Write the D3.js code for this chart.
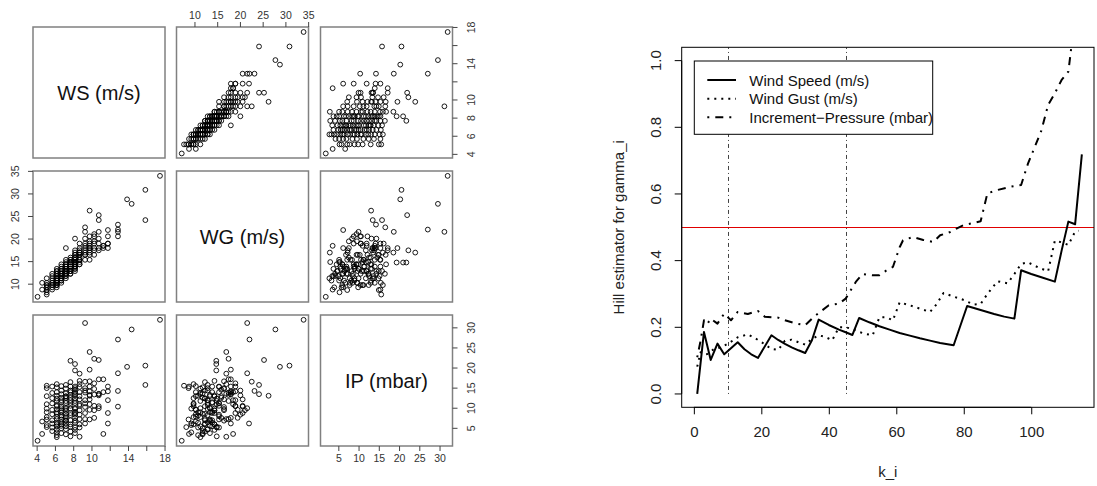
<!DOCTYPE html>
<html><head><meta charset="utf-8">
<script src="https://cdn.jsdelivr.net/npm/d3@7"></script>
<style>
body{margin:0;background:#fff;}
svg{display:block;font-family:"Liberation Sans",Arial,Helvetica,sans-serif;}
</style></head>
<body>
<script>
// ---------- data: scatterplot matrix (grouped by wind-speed level) ----------
const varNames = ["WS (m/s)", "WG (m/s)", "IP (mbar)"];
const wsLevels = [4.1,4.6,5.1,5.7,6.2,6.7,7.2,7.7,8.2,8.7,9.3,9.8,10.3,10.8,11.3,11.8,12.9,13.9,14.4,15.9,17.5];
const wgByLevel = [
 [7.2],
 [8.8,10.3],
 [7.7,8.2,8.7,9.3,9.8,8.7,10.3,9.3,11.3,9.8],
 [8.8,9.3,9.8,10.3,10.8,11.3,10.3,12.3,9.8,11.8],
 [9.8,10.3,10.8,11.3,9.8,10.3,11.8,12.3,10.8,11.3,12.9,9.3,10.8,11.3,12.3,13.4,10.3,11.8,12.9,9.8],
 [10.3,11.3,11.8,12.3,10.8,11.3,12.9,13.4,11.8,12.3,13.9,10.8,11.8,12.9,11.3,13.4,12.3,14.4],
 [11.3,11.8,12.3,12.9,13.4,12.3,13.9,12.9,11.8,14.4,13.4,12.9,14.9,12.3,13.9,15.4,18.0,12.9,14.4,13.4],
 [12.3,12.9,13.4,13.9,14.4,12.9,13.4,14.9,12.3,15.4,13.9,14.8,15.9,14.4,12.9,13.9,15.4,14.9],
 [14.8,14.8,12.9,13.9,14.4,14.9,15.4,13.4,14.4,15.9,13.9,14.9,13.4,16.5,17.0,15.4,14.4,16.5,17.5,20.1,15.9,13.9],
 [17.0,14.4,15.4,15.9,14.9,16.5,15.4,17.5,14.4,17.0,18.0,16.5,19.0,15.4,17.0],
 [21.6,22.6,16.5,17.5,18.5,16.5,19.0,17.0,20.1,18.0,15.4],
 [17.0,18.0,26.3,16.5,19.0,18.0,17.5,20.6,19.5,15.4,18.5],
 [17.5,19.0,18.0,20.6,21.1,19.5,16.5],
 [25.3,24.2,18.0,19.0,21.6,20.1,17.5],
 [18.0,18.5,18.5],
 [18.0,19.0,20.6,22.0,19.0],
 [20.6,23.2,21.6,22.1],
 [28.8],
 [27.8],
 [24.2,30.9],
 [34.0]
];
const ipByLevel = [
 [1.9],
 [3.6,6.7],
 [15.6,5.3,15.0,9.9,7.8,7.2,13.0,5.8,9.0,11.0],
 [15.4,6.2,11.2,8.5,5.2,13.8,9.6,7.0,12.5,4.3],
 [16.0,14.0,13.1,11.8,10.5,9.7,8.6,7.3,6.4,5.5,4.7,4.0,3.3,2.8,12.4,9.0,7.9,15.2,10.8,6.0],
 [15.5,13.5,12.6,10.5,9.0,7.8,6.5,5.6,5.0,14.4,11.5,8.2,3.8,12.0,10.0,7.2,6.0,9.5],
 [14.9,13.7,12.5,11.3,10.1,8.6,7.0,4.8,3.5,9.4,13.0,15.8,11.8,6.2,5.5,8.0,7.6,9.8,12.9,6.8],
 [16.5,14.4,13.3,11.3,9.9,8.3,7.0,5.4,4.2,10.6,15.4,21.8,12.6,6.0,12.0,8.8,14.0,3.0],
 [21.0,19.4,15.0,14.0,13.2,12.4,11.3,10.0,8.8,7.6,6.4,5.2,3.8,9.8,13.6,15.4,4.6,6.9,11.8,8.4,14.6,9.1],
 [18.6,16.8,15.3,13.0,11.0,9.5,8.4,7.3,6.0,2.9,14.0,12.2,10.6,5.2,16.0],
 [31.2,16.6,15.0,13.9,12.0,10.3,8.8,7.3,14.4,6.2,11.2],
 [24.0,19.6,13.1,16.7,15.4,14.2,13.3,12.2,9.6,7.2,11.0],
 [22.3,16.2,13.4,10.6,9.5,7.6,14.8],
 [22.0,13.5,13.6,10.5,10.0,13.2,17.2],
 [17.2,3.6,14.0],
 [15.4,12.0,8.8,6.2,14.2],
 [10.4,14.3,18.7,27.1],
 [20.3],
 [29.6],
 [15.8,20.6],
 [32.0]
];
const wsTicks = [4,6,8,10,12,14,16,18];
const wsTickLabels = [4,6,8,10,14,18];
const wgTicks = [10,15,20,25,30,35];
const ipTicks = [5,10,15,20,25,30];

// ---------- data: Hill estimator plot ----------
const hillKws = [1,3,5,7,9,13,15,17,19,23,25,27,29,31,33,35,37,40,43,45,47,49,52,55,58,61,64,67,70,73,77,81,85,89,92,95,97,100,103,107,109,111,113,115];
const hillWS  = [0.0,0.186,0.102,0.151,0.119,0.155,0.134,0.119,0.108,0.176,0.162,0.150,0.140,0.131,0.123,0.161,0.223,0.207,0.193,0.185,0.177,0.228,0.215,0.203,0.193,0.183,0.175,0.167,0.160,0.153,0.146,0.264,0.252,0.240,0.232,0.226,0.371,0.360,0.350,0.337,0.43,0.517,0.509,0.719];
const hillKwg = [1,2,3,4,6,8,10,13,16,18,20,23,25,27,29,31,33,35,37,39,41,43,45,47,49,51,53,55,57,59,61,64,67,70,72,74,77,80,83,85,87,90,93,95,97,99,102,105,107,109,111,113,114];
const hillWG  = [0.082,0.125,0.118,0.12,0.135,0.14,0.15,0.17,0.179,0.168,0.156,0.135,0.132,0.16,0.163,0.155,0.148,0.165,0.176,0.171,0.161,0.2,0.2,0.195,0.186,0.18,0.176,0.23,0.23,0.221,0.275,0.266,0.256,0.246,0.27,0.303,0.292,0.282,0.268,0.27,0.3,0.338,0.332,0.36,0.39,0.395,0.38,0.368,0.46,0.455,0.447,0.487,0.49];
const hillKip = [1,2,3,4,5,7,9,11,13,16,19,21,25,27,30,33,35,37,40,43,45,48,50,53,55,57,59,61,62,65,68,71,73,76,78,80,83,85,86,87,90,94,97,99,101,103,105,107,109,111,112,114];
const hillIP  = [0.11,0.16,0.221,0.21,0.226,0.211,0.241,0.221,0.246,0.24,0.249,0.232,0.229,0.221,0.212,0.206,0.226,0.243,0.266,0.271,0.286,0.336,0.36,0.356,0.356,0.37,0.381,0.44,0.461,0.471,0.462,0.456,0.476,0.486,0.497,0.507,0.513,0.518,0.56,0.602,0.612,0.622,0.627,0.69,0.74,0.79,0.867,0.902,0.942,0.967,1.05,1.25];
const hillXTicks = [0,20,40,60,80,100];
const hillYTicks = [0,0.2,0.4,0.6,0.8,1.0];
const vLines = [10,45];
const hLine = 0.5;
const legendLabels = ["Wind Speed (m/s)", "Wind Gust (m/s)", "Increment\u2212Pressure (mbar)"];

// ---------- build ----------
const W = 1097, H = 486;
const svg = d3.select("body").append("svg").attr("width", W).attr("height", H);

const pts = [];
wsLevels.forEach((w, i) => {
  wgByLevel[i].forEach((g, j) => pts.push([w, g, ipByLevel[i][j]]));
});

const colX = [33, 176.5, 320.5], rowY = [27, 171, 315];
const pw = 132, ph = 131;
const domains = [[3.6, 18.05], [6.05, 35.08], [0.6, 33.2]];
const xs = domains.map((d, j) => d3.scaleLinear().domain(d).range([colX[j], colX[j] + pw]));
const ys = domains.map((d, i) => d3.scaleLinear().domain(d).range([rowY[i] + ph, rowY[i]]));

const pairs = svg.append("g");
for (let i = 0; i < 3; i++) {
  for (let j = 0; j < 3; j++) {
    const g = pairs.append("g");
    if (i === j) {
      g.append("text").attr("x", colX[j] + pw / 2).attr("y", rowY[i] + ph / 2)
        .attr("text-anchor", "middle").attr("dominant-baseline", "central")
        .attr("font-size", 20).attr("fill", "#111").text(varNames[i]);
    } else {
      g.selectAll("circle").data(pts).join("circle")
        .attr("cx", d => xs[j](d[j])).attr("cy", d => ys[i](d[i]))
        .attr("r", 2.4).attr("fill", "none").attr("stroke", "#000").attr("stroke-width", 0.9);
    }
    g.append("rect").attr("x", colX[j]).attr("y", rowY[i]).attr("width", pw).attr("height", ph)
      .attr("fill", "none").attr("stroke", "#808080").attr("stroke-width", 1.5);
  }
}

function labelFmt(v){ return String(v); }
function styleAxis(g){
  g.select(".domain").remove();
  g.selectAll("line").attr("stroke", "#444");
  g.selectAll("text").attr("font-size", 10.5).attr("fill", "#333").attr("font-family", "Liberation Sans, Arial, sans-serif");
}
styleAxis(pairs.append("g").attr("transform", `translate(0,${rowY[0]})`)
  .call(d3.axisTop(xs[1]).tickValues(wgTicks).tickSize(5).tickPadding(3)));
styleAxis(pairs.append("g").attr("transform", `translate(0,${rowY[2] + ph})`)
  .call(d3.axisBottom(xs[0]).tickValues(wsTicks).tickSize(5).tickPadding(4)
    .tickFormat(v => wsTickLabels.includes(v) ? labelFmt(v) : "")));
styleAxis(pairs.append("g").attr("transform", `translate(0,${rowY[2] + ph})`)
  .call(d3.axisBottom(xs[2]).tickValues(ipTicks).tickSize(5).tickPadding(4)));

function vAxis(scale, ticks, labels, xPos, side) {
  const g = pairs.append("g");
  g.selectAll("line").data(ticks).join("line")
    .attr("x1", xPos).attr("x2", xPos + (side === "right" ? 5 : -5))
    .attr("y1", d => scale(d)).attr("y2", d => scale(d)).attr("stroke", "#444");
  const lx = side === "right" ? xPos + 18 : xPos - 18;
  g.selectAll("text").data(ticks.filter(t => labels.includes(t))).join("text")
    .attr("transform", d => `translate(${lx},${scale(d)}) rotate(-90)`)
    .attr("text-anchor", "middle").attr("dominant-baseline", "central")
    .attr("font-size", 10.5).attr("fill", "#333").text(d => labelFmt(d));
}
vAxis(ys[0], wsTicks, wsTickLabels, colX[2] + pw, "right");
vAxis(ys[1], wgTicks, wgTicks, colX[0], "left");
vAxis(ys[2], ipTicks, ipTicks, colX[2] + pw, "right");

// ---------- Hill plot ----------
const hx = d3.scaleLinear().domain([-3.6, 118.6]).range([681.7, 1094]);
const hy = d3.scaleLinear().domain([-0.04, 1.04]).range([407.3, 47.3]);
const hill = svg.append("g");
hill.append("clipPath").attr("id", "hclip").append("rect")
  .attr("x", 681.7).attr("y", 47.3).attr("width", 1094 - 681.7).attr("height", 407.3 - 47.3);

const plotArea = hill.append("g").attr("clip-path", "url(#hclip)");
plotArea.selectAll("line.v").data(vLines).join("line").attr("class", "v")
  .attr("x1", d => Math.round(hx(d)) + 0.5).attr("x2", d => Math.round(hx(d)) + 0.5)
  .attr("y1", hy(0)).attr("y2", hy(1.04))
  .attr("stroke", "#444").attr("stroke-width", 1).attr("stroke-dasharray", "1,3,4,3");
plotArea.append("line").attr("x1", 681.7).attr("x2", 1094)
  .attr("y1", Math.round(hy(hLine)) + 0.5).attr("y2", Math.round(hy(hLine)) + 0.5)
  .attr("stroke", "#e00000").attr("stroke-width", 1);

const line = d3.line().x(d => hx(d[0])).y(d => hy(d[1]));
const series = [
  {k: hillKws, v: hillWS, dash: null},
  {k: hillKwg, v: hillWG, dash: "2,5"},
  {k: hillKip, v: hillIP, dash: "2,6,8,6"}
];
series.forEach(s => {
  const p = plotArea.append("path").datum(s.k.map((k, i) => [k, s.v[i]]))
    .attr("d", line).attr("fill", "none").attr("stroke", "#000").attr("stroke-width", 2)
    .attr("stroke-linejoin", "round");
  if (s.dash) p.attr("stroke-dasharray", s.dash);
});

hill.append("rect").attr("x", 681.7).attr("y", 47.3).attr("width", 1094 - 681.7).attr("height", 407.3 - 47.3)
  .attr("fill", "none").attr("stroke", "#000").attr("stroke-width", 1);

{
  const g = hill.append("g").attr("transform", "translate(0,407.3)")
    .call(d3.axisBottom(hx).tickValues(hillXTicks).tickSize(7).tickPadding(12));
  g.select(".domain").attr("d", `M${hx(0)},0H${hx(100)}`);
  g.selectAll("text").attr("font-size", 15).attr("fill", "#222").attr("font-family", "Liberation Sans, Arial, sans-serif");
}
{
  const g = hill.append("g").attr("transform", "translate(681.7,0)");
  g.append("path").attr("d", `M0,${hy(0)}V${hy(1)}`).attr("stroke", "#000");
  g.selectAll("line").data(hillYTicks).join("line")
    .attr("x1", 0).attr("x2", -7).attr("y1", d => hy(d)).attr("y2", d => hy(d)).attr("stroke", "#000");
  g.selectAll("text").data(hillYTicks).join("text")
    .attr("transform", d => `translate(-26,${hy(d)}) rotate(-90)`)
    .attr("text-anchor", "middle").attr("dominant-baseline", "central")
    .attr("font-size", 15).attr("fill", "#222").text(d3.format(".1f"));
}
hill.append("text").attr("transform", `translate(618,${(47.3 + 407.3) / 2}) rotate(-90)`)
  .attr("text-anchor", "middle").attr("dominant-baseline", "central")
  .attr("font-size", 15).attr("fill", "#222").text("Hill estimator for gamma_i");
hill.append("text").attr("x", (681.7 + 1094) / 2).attr("y", 471)
  .attr("text-anchor", "middle").attr("dominant-baseline", "central")
  .attr("font-size", 15).attr("fill", "#222").text("k_i");

{
  const lg = hill.append("g");
  lg.append("rect").attr("x", 694.3).attr("y", 61).attr("width", 932.7 - 694.3).attr("height", 134.3 - 61)
    .attr("fill", "#fff").attr("stroke", "#000").attr("stroke-width", 1);
  const rowsY = [80, 98.7, 117.3];
  series.forEach((s, i) => {
    const l = lg.append("line").attr("x1", 707.3).attr("x2", 736).attr("y1", rowsY[i]).attr("y2", rowsY[i])
      .attr("stroke", "#000").attr("stroke-width", 2);
    if (s.dash) l.attr("stroke-dasharray", s.dash);
    lg.append("text").attr("x", 749.3).attr("y", rowsY[i]).attr("dominant-baseline", "central")
      .attr("font-size", 15).attr("fill", "#111").text(legendLabels[i]);
  });
}
</script>
</body></html>
